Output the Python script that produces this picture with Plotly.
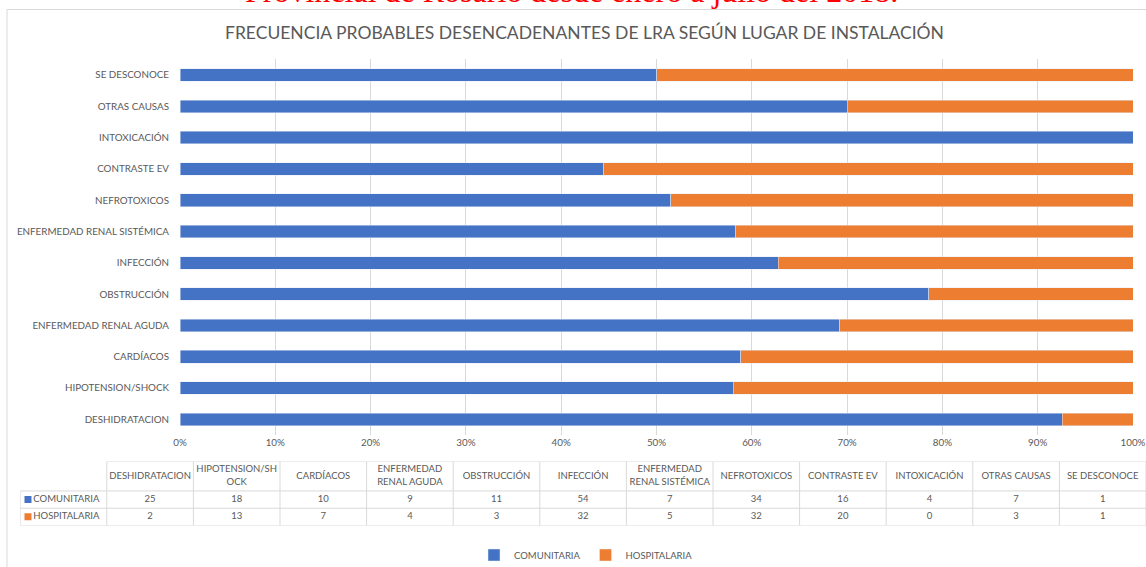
"""100% stacked bars of probable LRA triggers by place of onset, with data table."""

import plotly.graph_objects as go

W, H = 1146, 567

causas = [
    "DESHIDRATACION", "HIPOTENSION/SHOCK", "CARDÍACOS", "ENFERMEDAD RENAL AGUDA",
    "OBSTRUCCIÓN", "INFECCIÓN", "ENFERMEDAD RENAL SISTÉMICA", "NEFROTOXICOS",
    "CONTRASTE EV", "INTOXICACIÓN", "OTRAS CAUSAS", "SE DESCONOCE",
]
causas_tabla = [
    "DESHIDRATACION", "HIPOTENSION/SH<br>OCK", "CARDÍACOS", "ENFERMEDAD<br>RENAL AGUDA",
    "OBSTRUCCIÓN", "INFECCIÓN", "ENFERMEDAD<br>RENAL SISTÉMICA", "NEFROTOXICOS",
    "CONTRASTE EV", "INTOXICACIÓN", "OTRAS CAUSAS", "SE DESCONOCE",
]
series = ["COMUNITARIA", "HOSPITALARIA"]
comunitaria = [25, 18, 10, 9, 11, 54, 7, 34, 16, 4, 7, 1]
hospitalaria = [2, 13, 7, 4, 3, 32, 5, 32, 20, 0, 3, 1]

AZUL = "#4472C4"
NARANJA = "#ED7D31"
GRIS_TXT = "#595959"
GRID = "#D9D9D9"
FONT = "Lato"


def px_x(v):
    return v / W


def px_y(v):
    return 1 - v / H


fig = go.Figure()

fig.add_trace(go.Bar(y=causas, x=comunitaria, orientation="h", name=series[0],
                     marker_color=AZUL, hoverinfo="skip"))
fig.add_trace(go.Bar(y=causas, x=hospitalaria, orientation="h", name=series[1],
                     marker_color=NARANJA, hoverinfo="skip"))

# --- data table drawn on its own axes (x: column index, y: row index) ---
n = len(causas)
cols = list(range(n))
HEAD = 29 / 17  # header row height in data-row units
y_head = -HEAD / 2

fig.add_trace(go.Scatter(x=cols, y=[y_head] * n, text=causas_tabla, mode="text",
                         textfont=dict(family=FONT, size=9.5, color=GRIS_TXT),
                         xaxis="x2", yaxis="y2", showlegend=False, hoverinfo="skip"))
for r, (vals, nombre, color) in enumerate(zip([comunitaria, hospitalaria], series,
                                               [AZUL, NARANJA])):
    fig.add_trace(go.Scatter(x=cols, y=[r + 0.5] * n, text=[str(v) for v in vals],
                             mode="text",
                             textfont=dict(family=FONT, size=9.5, color=GRIS_TXT),
                             xaxis="x2", yaxis="y2", showlegend=False, hoverinfo="skip"))
    fig.add_trace(go.Scatter(x=[-1.41], y=[r + 0.5], text=[nombre], mode="markers+text",
                             textposition="middle right",
                             marker=dict(symbol="square", size=7, color=color),
                             textfont=dict(family=FONT, size=9.5, color=GRIS_TXT),
                             xaxis="x2", yaxis="y2", showlegend=False, hoverinfo="skip"))

lineas = []
borde = dict(color=GRID, width=1)
lineas.append(dict(type="line", xref="x2", yref="y2", x0=-0.5, x1=n - 0.5,
                   y0=-HEAD, y1=-HEAD, line=borde))
for r in range(3):
    lineas.append(dict(type="line", xref="x2", yref="y2", x0=-1.5, x1=n - 0.5,
                       y0=r, y1=r, line=borde))
lineas.append(dict(type="line", xref="x2", yref="y2", x0=-1.5, x1=-1.5,
                   y0=0, y1=2, line=borde))
for c in range(n + 1):
    lineas.append(dict(type="line", xref="x2", yref="y2", x0=c - 0.5, x1=c - 0.5,
                       y0=-HEAD, y1=2, line=borde))

fig.update_layout(
    width=W,
    height=H,
    barmode="stack",
    barnorm="percent",
    bargap=0.6,
    plot_bgcolor="white",
    paper_bgcolor="white",
    margin=dict(l=0, r=0, t=0, b=0, autoexpand=False),
    font=dict(family=FONT, size=9.5, color=GRIS_TXT),
    showlegend=True,
    legend=dict(orientation="h", x=px_x(586), xanchor="center", y=px_y(555),
                yanchor="middle", font=dict(size=9.5, color=GRIS_TXT),
                traceorder="normal", itemwidth=30),
    xaxis=dict(domain=[px_x(180), px_x(1133)], range=[0, 100], dtick=10,
               ticksuffix="%", showgrid=True, gridcolor=GRID, zeroline=False,
               showline=False, fixedrange=True, tickfont=dict(size=9.8)),
    yaxis=dict(domain=[px_y(435), px_y(59.4)], type="category", showgrid=False,
               ticklabelstandoff=10, fixedrange=True, tickfont=dict(size=9.8)),
    xaxis2=dict(domain=[px_x(W - 13 * 86.6), 1.0], range=[-1.5, n - 0.5],
                visible=False, fixedrange=True),
    yaxis2=dict(domain=[px_y(525.5), px_y(461.5)], range=[2, -HEAD],
                visible=False, fixedrange=True),
    shapes=[dict(type="rect", xref="paper", yref="paper",
                 x0=px_x(7), x1=1.2, y0=-0.2, y1=px_y(9.5),
                 line=dict(color=GRID, width=1), fillcolor="rgba(0,0,0,0)",
                 layer="below")] + lineas,
    annotations=[
        dict(text="Provincial de Rosario desde enero a julio del 2018.",
             xref="paper", yref="paper", x=px_x(571), y=px_y(-29.5), xanchor="center",
             yanchor="top", showarrow=False,
             font=dict(family="Liberation Serif", size=32, color="#FF0000")),
        dict(text="FRECUENCIA PROBABLES DESENCADENANTES DE LRA SEGÚN LUGAR DE INSTALACIÓN",
             xref="paper", yref="paper", x=px_x(584), y=px_y(32), xanchor="center",
             yanchor="middle", showarrow=False,
             font=dict(family=FONT, size=17.5, color=GRIS_TXT)),
    ],
)

fig.write_html("out.html", config={"displayModeBar": False},
               post_script="document.body.style.margin='0';")
